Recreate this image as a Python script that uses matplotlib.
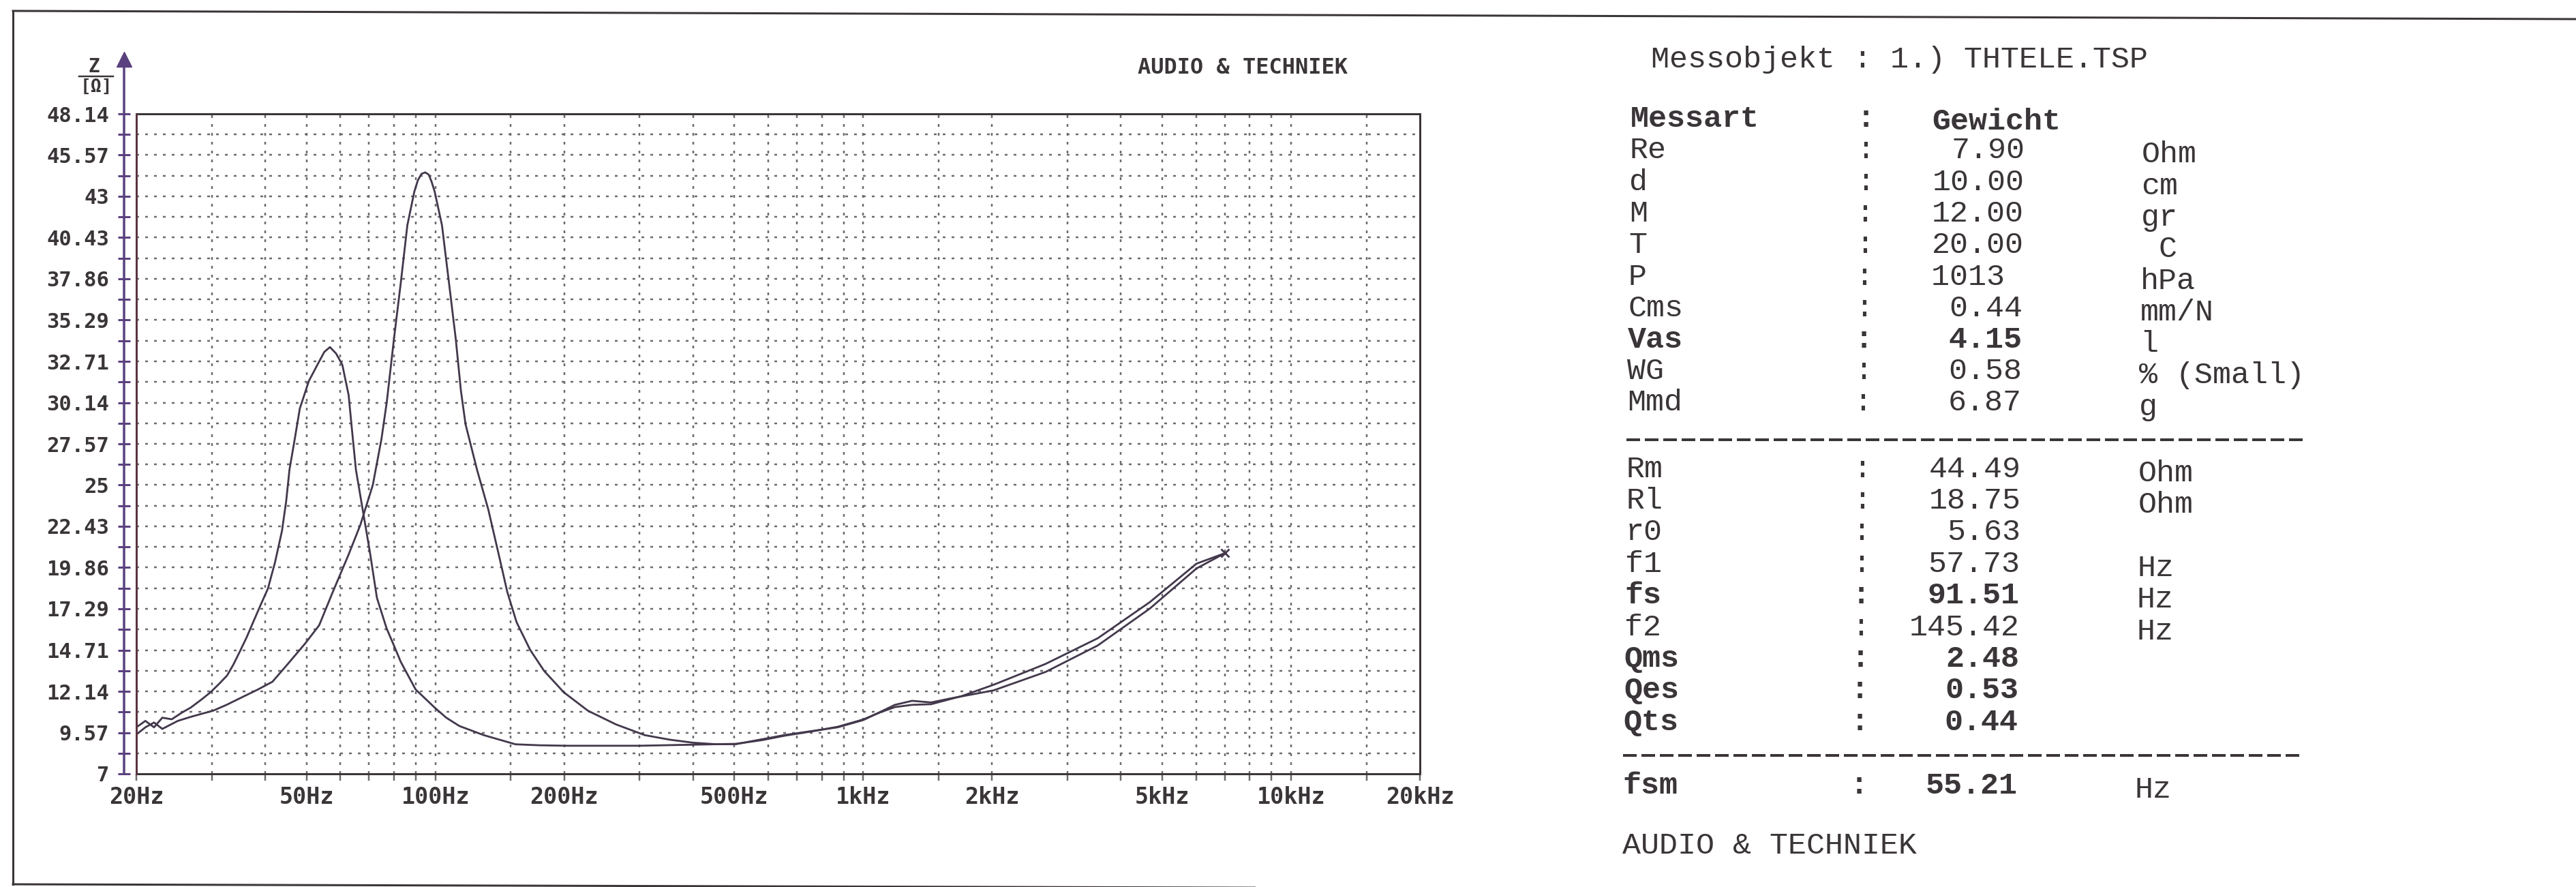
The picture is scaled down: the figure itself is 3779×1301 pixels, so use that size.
import matplotlib
matplotlib.use('Agg')
import matplotlib.pyplot as plt

# impedance curve with added mass (left peak)
freq_a = [20.0, 21.0, 22.0, 23.0, 24.2, 25.5, 26.8, 28.3, 29.8, 31.2, 32.6, 33.7,
          34.8, 36.2, 37.5, 39.0, 40.6, 42.2, 43.8, 44.8, 45.6, 47.0, 48.2, 50.6,
          53.0, 55.0, 56.7, 58.6, 60.6, 62.7, 63.8, 65.2, 67.6, 70.3, 73.0, 76.9,
          80.0, 83.0, 89.9, 99.7, 106.0, 113.8, 129.8, 153.9, 175.0, 202.6, 298.8,
          371.8, 504.0, 580.0, 656.0, 760.0, 871.0, 1000.0, 1100.0, 1186.0, 1300.0,
          1441.0, 1700.0, 2016.0, 2667.0, 3532.0, 4674.0, 6009.0, 7012.0]
z_a = [9.9, 10.3, 9.9, 10.5, 10.4, 10.8, 11.13, 11.6, 12.08, 12.6, 13.13, 13.8,
       14.55, 15.5, 16.45, 17.5, 18.54, 20.2, 22.15, 24.0, 25.96, 28.0, 29.76, 31.48,
       32.5, 33.3, 33.6, 33.2, 32.5, 30.6, 28.5, 25.96, 23.49, 20.82, 17.97, 16.07,
       15.0, 13.98, 12.26, 11.12, 10.5, 9.98, 9.41, 8.84, 8.78, 8.75, 8.75,
       8.8, 8.87, 9.1, 9.38, 9.65, 9.93, 10.39, 10.85, 11.16, 11.3,
       11.34, 11.85, 12.55, 13.85, 15.45, 17.7, 20.1, 20.76]

# impedance curve free air (right peak)
freq_b = [20.0, 21.0, 22.0, 23.0, 23.7, 25.0, 26.8, 28.5, 30.2, 32.5, 34.8, 38.5,
          41.6, 45.0, 49.6, 53.5, 57.6, 62.6, 66.8, 71.4, 74.8, 77.0, 80.0, 83.0,
          86.0, 89.3, 91.0, 92.8, 94.7, 96.5, 98.0, 99.6, 103.6, 107.6, 111.6, 114.7,
          117.6, 125.1, 132.9, 141.8, 147.2, 154.8, 166.5, 179.6, 199.6, 227.4, 264.3,
          308.7, 352.6, 399.9, 450.0, 504.0, 656.0, 871.0, 1000.0, 1186.0, 1300.0,
          1441.0, 1600.0, 2016.0, 2667.0, 3532.0, 4674.0, 6009.0, 7012.0]
z_b = [9.45, 9.9, 10.2, 9.8, 9.98, 10.3, 10.55, 10.75, 10.93, 11.3, 11.69, 12.26,
       12.74, 13.79, 15.12, 16.26, 18.35, 20.63, 22.53, 25.0, 27.86, 30.2, 34.1, 37.6,
       41.2, 43.3, 44.0, 44.4, 44.49, 44.35, 43.9, 43.3, 41.2, 37.6, 34.1, 30.9,
       28.8, 25.96, 23.49, 20.25, 18.35, 16.45, 14.73, 13.41, 12.08, 10.93, 10.08,
       9.41, 9.13, 8.94, 8.85, 8.85, 9.42, 9.9, 10.35, 11.3, 11.55,
       11.45, 11.7, 12.2, 13.35, 15.0, 17.3, 19.8, 20.76]

y_labels = ['7', '9.57', '12.14', '14.71', '17.29', '19.86', '22.43', '25', '27.57',
            '30.14', '32.71', '35.29', '37.86', '40.43', '43', '45.57', '48.14']
x_label_freqs = [20, 50, 100, 200, 500, 1000, 2000, 5000, 10000, 20000]
x_labels = ['20Hz', '50Hz', '100Hz', '200Hz', '500Hz', '1kHz', '2kHz', '5kHz', '10kHz', '20kHz']
grid_freqs = [20, 30, 40, 50, 60, 70, 80, 90, 100, 150, 200, 300, 400, 500, 600, 700,
              800, 900, 1000, 1500, 2000, 3000, 4000, 5000, 6000, 7000, 8000, 9000,
              10000, 15000, 20000]

chart_title = 'AUDIO & TECHNIEK'
header = 'Messobjekt : 1.) THTELE.TSP'
col_names = ['Messart', 'Gewicht']
params_1 = ['Re', 'd', 'M', 'T', 'P', 'Cms', 'Vas', 'WG', 'Mmd']
values_1 = ['7.90', '10.00', '12.00', '20.00', '1013 ', '0.44', '4.15', '0.58', '6.87']
units_1 = ['Ohm', 'cm', 'gr', ' C', 'hPa', 'mm/N', 'l', '% (Small)', 'g']
params_2 = ['Rm', 'Rl', 'r0', 'f1', 'fs', 'f2', 'Qms', 'Qes', 'Qts']
values_2 = ['44.49', '18.75', '5.63', '57.73', '91.51', '145.42', '2.48', '0.53', '0.44']
units_2 = ['Ohm', 'Ohm', '', 'Hz', 'Hz', 'Hz', '', '', '']
params_3 = ['fsm']
values_3 = ['55.21']
units_3 = ['Hz']
bold_rows = ['Vas', 'fs', 'Qms', 'Qes', 'Qts', 'fsm']
footer = 'AUDIO & TECHNIEK'

# --- layout (pixels) ---
W, H = 3779, 1301
PT = 0.72  # points per pixel at dpi 100
ax_l, ax_r, ax_t, ax_b = 200, 2083, 167, 1135

ink = '#3a3538'
axis_col = '#5b4180'
grid_col = '#6e6a70'
curve_col = '#43384c'
mono = 'DejaVu Sans Mono'
table_font = 'Liberation Mono'

fig = plt.figure(figsize=(W / 100, H / 100), dpi=100)
fig.patch.set_facecolor('white')

# overlay in pixel coordinates for borders and free text
ov = fig.add_axes([0, 0, 1, 1])
ov.set_xlim(0, W)
ov.set_ylim(H, 0)
ov.axis('off')

ov.plot([19, 19], [16, 1297], color=ink, lw=3 * PT)
ov.plot([19, W], [16, 28], color=ink, lw=3 * PT)
ov.plot([19, 2205], [1297, 1303], color=ink, lw=3 * PT)

ov.text(1669, 100, chart_title, family=mono, weight='bold', size=23,
        color=ink, ha='left', va='center')
ov.text(138, 98, 'Z', family=mono, weight='bold', size=20, color=ink,
        ha='center', va='center')
ov.plot([116, 166], [112, 112], color=ink, lw=2.5 * PT)
ov.text(141, 128, '[Ω]', family=mono, weight='bold', size=19, color=ink,
        ha='center', va='center')

# table on the right
def skew(y):
    return -(y - 221) * 0.011

lab_x, colon_x, val_x, unit_x = 2391, 2737, 2970, 3142
fs_tab = 45 * PT
ov.text(2421 + skew(88), 88, header, family=table_font, size=fs_tab,
        color=ink, ha='left', va='center')
ov.text(lab_x + skew(174), 174, col_names[0], family=table_font, size=fs_tab,
        weight='bold', color=ink, ha='left', va='center')
ov.text(colon_x + skew(174), 174, ':', family=table_font, size=fs_tab,
        weight='bold', color=ink, ha='center', va='center')
ov.text(2834 + skew(176), 178, col_names[1], family=table_font, size=fs_tab,
        weight='bold', color=ink, ha='left', va='center')


def table_rows(params, values, units, y0, step):
    for i, (p, v, u) in enumerate(zip(params, values, units)):
        y = y0 + i * step
        s = skew(y)
        w = 'bold' if p in bold_rows else 'normal'
        ov.text(lab_x + s, y, p, family=table_font, size=fs_tab, weight=w,
                color=ink, ha='left', va='center')
        ov.text(colon_x + s, y, ':', family=table_font, size=fs_tab, weight=w,
                color=ink, ha='center', va='center')
        ov.text(val_x + s, y, v, family=table_font, size=fs_tab, weight=w,
                color=ink, ha='right', va='center')
        if u:
            ov.text(unit_x + s, y + 6, u, family=table_font, size=fs_tab,
                    color=ink, ha='left', va='center')


table_rows(params_1, values_1, units_1, 221, 46.25)
table_rows(params_2, values_2, units_2, 688, 46.4)
table_rows(params_3, values_3, units_3, 1152, 46.4)

for yd in (645, 1108):
    s = skew(yd)
    ov.plot([lab_x + s, 3383 + s], [yd, yd], color=ink, lw=4 * PT,
            dashes=(5.0, 1.75))
ov.text(lab_x + skew(1241), 1241, footer, family=table_font, size=fs_tab,
        color=ink, ha='left', va='center')

# impedance chart
ax = fig.add_axes([ax_l / W, 1 - ax_b / H, (ax_r - ax_l) / W, (ax_b - ax_t) / H])
ax.set_xscale('log')
yvals = [float(s) for s in y_labels]
ax.set_xlim(grid_freqs[0], grid_freqs[-1])
ax.set_ylim(yvals[0], yvals[-1])
ax.set_facecolor('white')

half = [(a + b) / 2 for a, b in zip(yvals[:-1], yvals[1:])]
hgrid = sorted(half + yvals[1:-1])
grid_ls = (0, (1.6, 3.6))
ax.hlines(hgrid, grid_freqs[0], grid_freqs[-1], colors=grid_col,
          linestyles=[grid_ls], lw=2.5 * PT, zorder=1)
ax.vlines(grid_freqs[1:-1], yvals[0], yvals[-1], colors=grid_col,
          linestyles=[grid_ls], lw=2.5 * PT, zorder=1)

ax.plot(freq_a, z_a, color=curve_col, lw=2.8 * PT, zorder=3)
ax.plot(freq_b, z_b, color=curve_col, lw=2.8 * PT, zorder=3)
ax.plot(freq_b[-1], z_b[-1], marker='x', ms=8, mew=2, color=curve_col,
        zorder=3, clip_on=False)

for side in ('top', 'right', 'bottom'):
    ax.spines[side].set_color(ink)
    ax.spines[side].set_linewidth(3 * PT)
ax.plot([0, 0], [0, 1], transform=ax.transAxes, color='#5a3440',
        lw=3 * PT, clip_on=False, zorder=4)

# y axis with arrow, offset left of the frame
ax.spines['left'].set_position(('outward', 18 * PT))
ax.spines['left'].set_color('none')
xa = -18 / (ax_r - ax_l)
ytr = ax.get_yaxis_transform()
ax.plot([xa, xa], [yvals[0], 51.3], transform=ytr, color=axis_col,
        lw=3.5 * PT, clip_on=False)
ax.plot([xa], [51.55], transform=ytr, marker='^', ms=16, color=axis_col,
        clip_on=False)

ax.set_yticks(yvals, labels=y_labels)
ax.set_yticks(half, minor=True)
ax.tick_params(axis='y', which='both', direction='inout', length=18 * PT,
               width=3 * PT, color=axis_col, pad=13 * PT)
ax.tick_params(axis='y', which='major', labelsize=22, labelcolor=ink)
for t in ax.get_yticklabels():
    t.set_family(mono)
    t.set_weight('bold')

ax.set_xticks(x_label_freqs, labels=x_labels)
ax.set_xticks(grid_freqs, minor=True)
ax.xaxis.set_minor_formatter(plt.NullFormatter())
ax.tick_params(axis='x', which='both', direction='out', length=10 * PT,
               width=2.5 * PT, color=grid_col, pad=8 * PT)
ax.tick_params(axis='x', which='major', labelsize=24, labelcolor=ink)
for t in ax.get_xticklabels():
    t.set_family(mono)
    t.set_weight('bold')

fig.savefig('out.png', dpi=100, facecolor='white')
